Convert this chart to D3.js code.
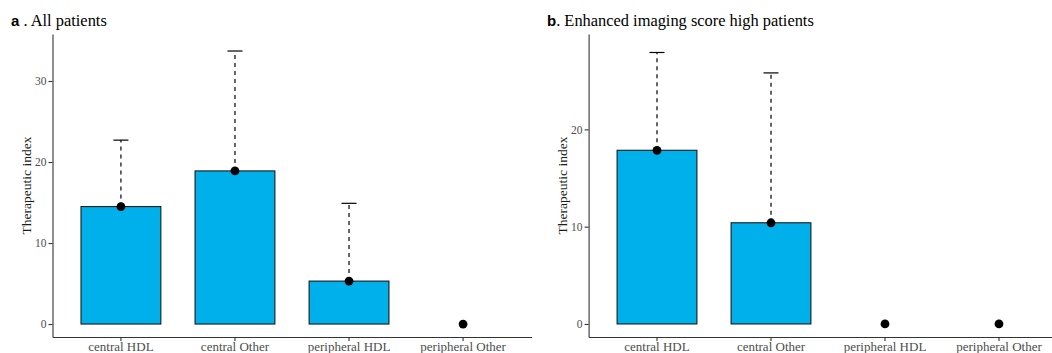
<!doctype html>
<html lang="en">
<head>
    <meta charset="utf-8">
    <title>Therapeutic index</title>
    <style>
        body {
            margin: 0;
            background-color: #fff;
        }
        .tick text {
            font-family: "Liberation Serif", "DejaVu Serif", serif;
            fill: #4D4D4D;
        }
        .domain, .tick line {
            stroke: #333;
            stroke-width: 1.1;
        }
    </style>
</head>
<body>
    <div id="chart"></div>

    <script src="https://d3js.org/d3.v7.min.js"></script>
    <script>
        const categories = ["central HDL", "central Other", "peripheral HDL", "peripheral Other"];
        const yTicks = [0, 10, 20, 30];

        // panel a: all patients
        const allMean = [14.5, 18.9, 5.3, 0];
        const allUpper = [22.7, 33.7, 14.9, null];

        // panel b: enhanced imaging score high patients
        const highMean = [17.85, 10.4, 0, 0];
        const highUpper = [27.9, 25.8, null, null];

        const width = 1052;
        const height = 353;

        const svg = d3.select("#chart").append("svg")
            .attr("width", width)
            .attr("height", height);

        function drawPanel(opts) {
            const data = categories.map((c, i) => ({cat: c, mean: opts.mean[i], upper: opts.upper[i]}));
            const top = 34, bottom = 337;

            const x = d3.scaleBand()
                .domain(categories)
                .range([opts.left, opts.right])
                .paddingInner(0.3)
                .paddingOuter(0.25);

            const y = d3.scaleLinear()
                .domain(opts.yDomain)
                .range([bottom, top]);

            const g = svg.append("g");

            // title
            const title = g.append("text")
                .attr("x", opts.titleX)
                .attr("y", 26);
            title.append("tspan")
                .text(opts.letter)
                .attr("font-family", "'Liberation Sans', Arial, sans-serif")
                .attr("font-weight", "bold")
                .attr("font-size", "15px");
            title.append("tspan")
                .text(opts.title)
                .attr("font-family", "'Liberation Serif', serif")
                .attr("font-size", "16.4px");

            // bars
            g.selectAll(".bar")
                .data(data.filter(d => d.mean > 0))
                .enter().append("rect")
                .attr("class", "bar")
                .attr("x", d => x(d.cat))
                .attr("y", d => y(d.mean))
                .attr("width", x.bandwidth())
                .attr("height", d => y(0) - y(d.mean))
                .attr("fill", "#00B0EB")
                .attr("stroke", "#1a1a1a")
                .attr("stroke-width", 1.1);

            // dashed error bars
            const err = data.filter(d => d.upper != null);
            const cx = d => x(d.cat) + x.bandwidth() / 2;

            g.selectAll(".err")
                .data(err)
                .enter().append("line")
                .attr("x1", cx)
                .attr("x2", cx)
                .attr("y1", d => y(d.mean))
                .attr("y2", d => y(d.upper))
                .attr("stroke", "#000")
                .attr("stroke-width", 1.2)
                .attr("stroke-dasharray", "4,4");

            g.selectAll(".cap")
                .data(err)
                .enter().append("line")
                .attr("x1", d => cx(d) - 7.5)
                .attr("x2", d => cx(d) + 7.5)
                .attr("y1", d => y(d.upper))
                .attr("y2", d => y(d.upper))
                .attr("stroke", "#000")
                .attr("stroke-width", 1.2);

            g.selectAll(".pt")
                .data(data)
                .enter().append("circle")
                .attr("cx", cx)
                .attr("cy", d => y(d.mean))
                .attr("r", 4.4)
                .attr("fill", "#000");

            // axes
            g.append("g")
                .attr("transform", `translate(${opts.left},0)`)
                .call(d3.axisLeft(y).tickValues(yTicks.filter(t => t <= opts.yDomain[1])).tickSize(4).tickPadding(2).tickSizeOuter(0))
                .call(a => a.selectAll("text").attr("font-size", "11.5px"));

            g.append("g")
                .attr("transform", `translate(0,${bottom})`)
                .call(d3.axisBottom(x).tickSize(4).tickPadding(1).tickSizeOuter(0))
                .call(a => a.selectAll("text").attr("font-size", "13px").attr("fill", "#1a1a1a"));

            g.append("text")
                .text("Therapeutic index")
                .attr("transform", `translate(${opts.left - 22},${(top + bottom) / 2}) rotate(-90)`)
                .attr("text-anchor", "middle")
                .attr("font-family", "'Liberation Serif', serif")
                .attr("font-size", "13.5px")
                .attr("fill", "#1a1a1a");
        }

        drawPanel({
            letter: "a",
            title: " . All patients",
            titleX: 11,
            mean: allMean,
            upper: allUpper,
            left: 52.5,
            right: 531.5,
            yDomain: [-1.6, 35.8]
        });

        drawPanel({
            letter: "b",
            title: ". Enhanced imaging score high patients",
            titleX: 547,
            mean: highMean,
            upper: highUpper,
            left: 588.6,
            right: 1067.4,
            yDomain: [-1.34, 29.8]
        });
    </script>
</body>
</html>
